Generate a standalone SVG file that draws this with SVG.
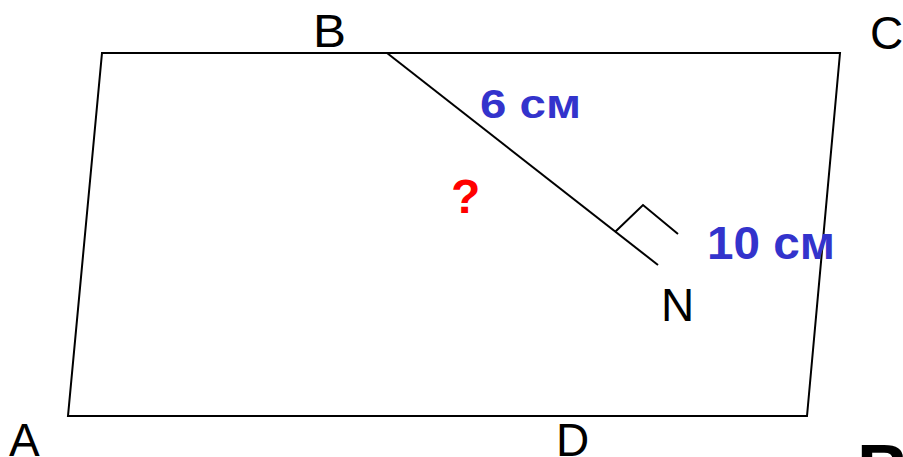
<svg xmlns="http://www.w3.org/2000/svg" width="903" height="457" viewBox="0 0 903 457">
<style>
.ln{fill:none;stroke:#000;stroke-width:2;stroke-linejoin:miter}
.lbl{font-family:"Liberation Sans",Arial,sans-serif;font-size:46px;fill:#000}
.meas{font-family:"Liberation Sans",Arial,sans-serif;font-weight:bold;fill:#3333cc}
.q{font-family:"Liberation Sans",Arial,sans-serif;font-weight:bold;font-size:48px;fill:#ff0000}
</style>
<rect width="903" height="457" fill="#fff"/>
<g id="figure">
<polygon id="parallelogram" class="ln" points="102,53 840,53 807,416 68,416"/>
</g>
<g id="connectors">
<line id="BN" class="ln" x1="387" y1="53" x2="658" y2="265"/>
<polyline id="right-angle" class="ln" points="615,232 643,205 678,234"/>
</g>
<g id="labels">
<text id="lblB" class="lbl" x="313" y="47" textLength="33" lengthAdjust="spacingAndGlyphs">B</text>
<text id="lblC" class="lbl" x="870" y="49">C</text>
<text id="lblA" class="lbl" x="9" y="456">A</text>
<text id="lblD" class="lbl" x="556" y="456">D</text>
<text id="lblN" class="lbl" x="661" y="321">N</text>
<text id="len6" class="meas" x="480" y="118" font-size="41" textLength="101" lengthAdjust="spacingAndGlyphs">6 см</text>
<text id="len10" class="meas" x="707" y="259" font-size="47" textLength="128" lengthAdjust="spacingAndGlyphs">10 см</text>
<text id="question" class="q" x="451" y="213">?</text>
<text id="bigB" x="857" y="495" font-family="Liberation Sans,Arial,sans-serif" font-weight="bold" font-size="72" fill="#000">B</text>
</g>
</svg>
